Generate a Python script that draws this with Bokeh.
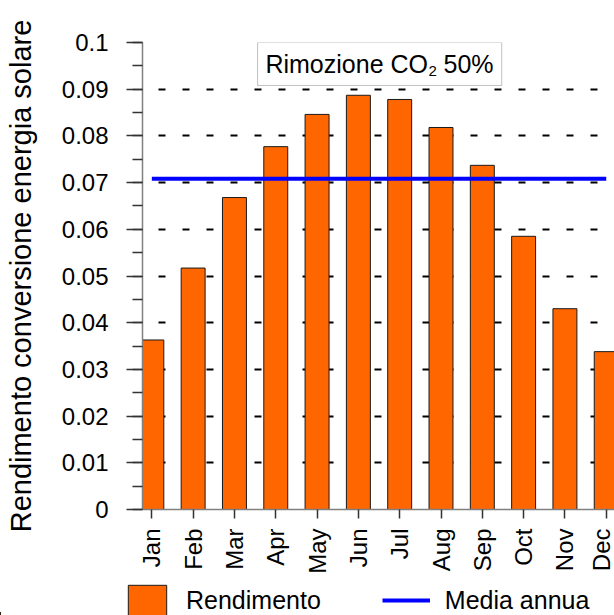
from bokeh.plotting import figure
from bokeh.layouts import column
from bokeh.models import (Range1d, SingleIntervalTicker, FixedTicker, PrintfTickFormatter,
                          Legend, LegendItem, BoxAnnotation, Label, ColumnDataSource)
from bokeh.embed import file_html
from bokeh.resources import INLINE
import math

months = ["Jan", "Feb", "Mar", "Apr", "May", "Jun", "Jul", "Aug", "Sep", "Oct", "Nov", "Dec"]
rendimento = [0.0363, 0.0517, 0.0668, 0.0777, 0.0846, 0.0887, 0.0878, 0.0818, 0.0737, 0.0585, 0.0430, 0.0338]
media_annua = 0.0708
legend_labels = ["Rendimento", "Media annua"]

FONT = "Liberation Sans"
idx = list(range(len(months)))
BAR_STYLE = dict(fill_color="#FF6600", line_color="#1a1a1a", line_width=1)
LINE_STYLE = dict(line_color="#0000FF", line_width=4)

p = figure(width=614, height=580, output_backend="svg", toolbar_location=None,
           x_range=Range1d(-0.226, 11.2), y_range=Range1d(0, 0.1),
           min_border_left=142, min_border_right=0, min_border_top=42, min_border_bottom=71)
p.outline_line_color = None
p.frame_align = False

src = ColumnDataSource(dict(x=idx, y=rendimento))
p.vbar(x="x", top="y", width=0.58, source=src, **BAR_STYLE)
p.line(x=[idx[0], idx[-1]], y=[media_annua, media_annua], **LINE_STYLE)

# grid
p.xgrid.grid_line_color = None
p.ygrid.grid_line_color = "black"
p.ygrid.grid_line_width = 2
p.ygrid.grid_line_dash = "7 17"
p.ygrid.grid_line_dash_offset = 8

# y axis
ya = p.yaxis[0]
ya.ticker = SingleIntervalTicker(interval=0.01, num_minor_ticks=2)
p.ygrid.ticker = ya.ticker
ya.formatter = PrintfTickFormatter(format="%.6g")
ya.axis_label = "Rendimento conversione energia solare"
ya.axis_label_text_font = FONT
ya.axis_label_text_font_size = "29px"
ya.axis_label_text_font_style = "normal"
ya.axis_label_text_color = "black"
ya.axis_label_standoff = 22
ya.major_label_text_font = FONT
ya.major_label_text_font_size = "24px"
ya.major_label_text_color = "black"
ya.major_label_standoff = 18
ya.major_tick_out = 16
ya.major_tick_in = 0
ya.minor_tick_out = 10
ya.minor_tick_in = 0
ya.axis_line_color = "#808080"
ya.axis_line_width = 1.5
ya.major_tick_line_color = "#333333"
ya.major_tick_line_width = 1.5
ya.minor_tick_line_color = "#333333"
ya.minor_tick_line_width = 1.5

# x axis
xa = p.xaxis[0]
xa.ticker = FixedTicker(ticks=idx)
xa.major_label_overrides = {i: m for i, m in zip(idx, months)}
xa.major_label_orientation = math.pi / 2
xa.major_label_text_font = FONT
xa.major_label_text_font_size = "24px"
xa.major_label_text_color = "black"
xa.major_label_standoff = 10
xa.major_tick_out = 9
xa.major_tick_in = 0
xa.minor_tick_line_color = None
xa.axis_line_color = "#808080"
xa.axis_line_width = 1.5
xa.major_tick_line_color = "#333333"
xa.major_tick_line_width = 1.5

# annotation box
box = BoxAnnotation(left=2.56, right=8.47, top=0.1, bottom=0.0908,
                    fill_color="white", fill_alpha=1.0, line_color="#333333", line_width=1)
p.add_layout(box)
p.add_layout(Label(x=2.75, y=0.0954, text="Rimozione CO", text_font=FONT,
                   text_font_size="25px", text_color="black", text_baseline="alphabetic"))
p.add_layout(Label(x=6.70, y=0.0939, text="2", text_font=FONT,
                   text_font_size="15px", text_color="black", text_baseline="alphabetic"))
p.add_layout(Label(x=7.06, y=0.0954, text="50%", text_font=FONT,
                   text_font_size="25px", text_color="black", text_baseline="alphabetic"))

# legend strip below the chart (its own renderers lie outside its visible range)
lg = figure(width=614, height=35, output_backend="svg", toolbar_location=None,
            x_range=Range1d(50, 51), y_range=Range1d(0, 1), x_axis_type=None, y_axis_type=None,
            min_border_left=0, min_border_right=0, min_border_top=0, min_border_bottom=0)
lg.outline_line_color = None
lg.frame_align = False
lg.xgrid.visible = False
lg.ygrid.visible = False
r_bar = lg.vbar(x="x", top="y", width=0.58, source=src, **BAR_STYLE)
r_line = lg.line(x=[idx[0], idx[-1]], y=[media_annua, media_annua], **LINE_STYLE)
legend = Legend(items=[LegendItem(label=legend_labels[0], renderers=[r_bar]),
                       LegendItem(label=legend_labels[1], renderers=[r_line])],
                orientation="horizontal", location=(123, -4),
                glyph_width=48, glyph_height=38, label_standoff=15, spacing=61,
                padding=0, margin=0, border_line_color=None, background_fill_alpha=0,
                label_text_font=FONT, label_text_font_size="25px", label_text_color="black")
lg.add_layout(legend, "center")

layout = column(p, lg, spacing=0)
open("out.html", "w").write(file_html(layout, INLINE))
